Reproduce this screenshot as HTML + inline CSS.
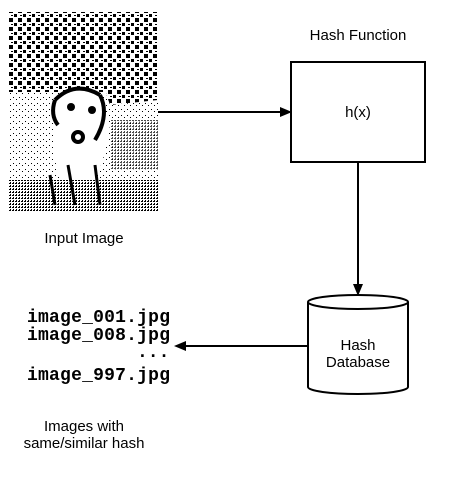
<!DOCTYPE html>
<html><head><style>
body{margin:0;background:#fff;width:450px;height:473px;overflow:hidden}
</style></head><body>
<svg width="450" height="473" viewBox="0 0 450 473" xmlns="http://www.w3.org/2000/svg" font-family="Liberation Sans, sans-serif">
<defs>
<pattern id="dots" width="9" height="9" patternUnits="userSpaceOnUse">
<rect width="9" height="9" fill="#fff"/>
<rect x="0" y="0" width="4" height="4" fill="#000"/>
<rect x="5" y="5" width="3" height="3" fill="#000"/>
<rect x="2" y="6" width="2" height="1" fill="#000"/>
</pattern>
<pattern id="speck" width="6" height="6" patternUnits="userSpaceOnUse">
<rect width="6" height="6" fill="#fff"/>
<rect x="1" y="1" width="1" height="1" fill="#000"/>
<rect x="4" y="3" width="1" height="1" fill="#000"/>
</pattern>
<pattern id="dense" width="3" height="3" patternUnits="userSpaceOnUse">
<rect width="3" height="3" fill="#fff"/>
<rect width="2" height="1" fill="#000"/>
<rect x="1" y="2" width="1" height="1" fill="#000"/>
</pattern>
</defs>
<rect x="8" y="12" width="150" height="200" fill="url(#speck)"/>
<rect x="8" y="12" width="150" height="80" fill="url(#dots)"/>
<path d="M100 75 L158 60 L158 100 L110 105 Z" fill="url(#dots)"/>
<rect x="8" y="180" width="150" height="32" fill="url(#dense)"/>
<rect x="110" y="120" width="48" height="50" fill="url(#dense)" opacity="0.7"/>
<path d="M55 100 Q75 80 100 95 L110 125 Q105 160 95 180 L60 180 Q50 150 55 100Z" fill="#fff"/>
<path d="M55 100 Q75 80 100 95" stroke="#000" stroke-width="4" fill="none"/>
<path d="M100 95 Q110 115 95 140" stroke="#000" stroke-width="4" fill="none"/>
<path d="M55 100 Q50 115 58 125" stroke="#000" stroke-width="4" fill="none"/>
<circle cx="71" cy="107" r="4"/><circle cx="92" cy="110" r="4"/>
<circle cx="78" cy="137" r="5" fill="none" stroke="#000" stroke-width="4"/>
<path d="M50 175 L55 205 M68 165 L75 205 M95 165 L100 205" stroke="#000" stroke-width="3"/>
<text x="84" y="243" font-size="15" text-anchor="middle">Input Image</text>
<text x="358" y="40" font-size="15" text-anchor="middle">Hash Function</text>
<rect x="291" y="62" width="134" height="100" fill="#fff" stroke="#000" stroke-width="2"/>
<text x="358" y="117" font-size="15" text-anchor="middle">h(x)</text>
<line x1="158" y1="112" x2="284" y2="112" stroke="#000" stroke-width="2"/>
<path d="M292 112 L280 107 L280 117Z"/>
<line x1="358" y1="162" x2="358" y2="287" stroke="#000" stroke-width="2"/>
<path d="M358 296 L353 284 L363 284Z"/>
<path d="M308 302 L308 387 A50 7 0 0 0 408 387 L408 302" fill="#fff" stroke="#000" stroke-width="2"/>
<ellipse cx="358" cy="302" rx="50" ry="7" fill="#fff" stroke="#000" stroke-width="2"/>
<text x="358" y="350" font-size="15" text-anchor="middle">Hash</text>
<text x="358" y="367" font-size="15" text-anchor="middle">Database</text>
<line x1="307" y1="346" x2="183" y2="346" stroke="#000" stroke-width="2"/>
<path d="M174 346 L186 341 L186 351Z"/>
<g font-family="Liberation Mono, monospace" font-size="18" font-weight="bold" stroke="none">
<text x="27" y="322" textLength="143">image_001.jpg</text>
<text x="27" y="340" textLength="143">image_008.jpg</text>
<text x="137" y="357">...</text>
<text x="27" y="380" textLength="143">image_997.jpg</text>
</g>
<text x="84" y="431" font-size="15" text-anchor="middle">Images with</text>
<text x="84" y="448" font-size="15" text-anchor="middle">same/similar hash</text>
</svg>
</body></html>
